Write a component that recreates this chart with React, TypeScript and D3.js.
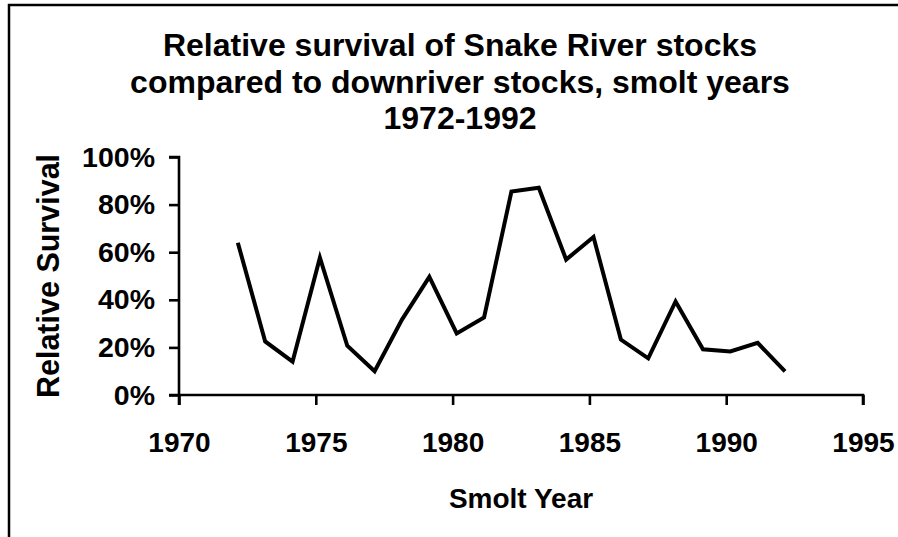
import { useEffect, useRef } from "react";
import * as d3 from "d3";

// smolt year as placed on the time axis (points sit slightly after the year tick)
const years = [1972.15, 1973.15, 1974.15, 1975.15, 1976.15, 1977.15, 1978.15, 1979.15,
  1980.15, 1981.15, 1982.15, 1983.15, 1984.15, 1985.15, 1986.15, 1987.15, 1988.15,
  1989.15, 1990.15, 1991.15, 1992.15];
const survival = [0.64, 0.225, 0.14, 0.577, 0.207, 0.10, 0.317, 0.496, 0.259, 0.326, 0.855,
  0.871, 0.569, 0.664, 0.233, 0.154, 0.393, 0.192, 0.183, 0.219, 0.099];
const xTicks = [1970, 1975, 1980, 1985, 1990, 1995];
const yTicks = [0, 0.2, 0.4, 0.6, 0.8, 1.0];
const titleLines = [
  "Relative survival of Snake River stocks",
  "compared to downriver stocks, smolt years",
  "1972-1992",
];

const W = 898;
const H = 537;
const FONT = "'Liberation Sans', Arial, Helvetica, sans-serif";

export default function App() {
  const ref = useRef<SVGSVGElement | null>(null);

  useEffect(() => {
    if (!ref.current) return;
    const svg = d3.select(ref.current);
    svg.selectAll("*").remove();

    const plot = { left: 179, right: 863, top: 157, bottom: 395 };
    const x = d3.scaleLinear().domain([1970, 1995]).range([plot.left, plot.right]);
    const y = d3.scaleLinear().domain([0, 1]).range([plot.bottom, plot.top]);

    svg.append("rect").attr("width", W).attr("height", H).attr("fill", "#fff");

    // outer frame (only top and left visible in crop)
    svg.append("path")
      .attr("d", `M9,${H} V5 H${W}`)
      .attr("fill", "none").attr("stroke", "#000").attr("stroke-width", 2.5);

    // title
    const title = svg.append("text")
      .attr("text-anchor", "middle")
      .attr("font-family", FONT).attr("font-weight", "bold").attr("font-size", 32);
    titleLines.forEach((t, i) => {
      title.append("tspan").attr("x", 460).attr("y", 56 + i * 36.5).text(t);
    });

    // y axis
    const yAxis = svg.append("g")
      .attr("transform", `translate(${plot.left},0)`)
      .call(d3.axisLeft(y).tickValues(yTicks).tickSize(10).tickPadding(14)
        .tickFormat((d) => `${Math.round(+d * 100)}%`));
    yAxis.select(".domain").attr("d", `M-10,${plot.top}H0V${plot.bottom + 10}`);
    yAxis.selectAll("line, .domain").attr("stroke", "#000").attr("stroke-width", 2.6);
    yAxis.selectAll("text")
      .attr("fill", "#000").attr("font-family", FONT).attr("font-weight", "bold").attr("font-size", 28.5);

    // x axis
    const xAxis = svg.append("g")
      .attr("transform", `translate(0,${plot.bottom})`)
      .call(d3.axisBottom(x).tickValues(xTicks).tickSize(10).tickPadding(27)
        .tickFormat((d) => `${d}`));
    xAxis.select(".domain").attr("d", `M${plot.left - 10},0H${plot.right}V10`);
    xAxis.selectAll("line, .domain").attr("stroke", "#000").attr("stroke-width", 2.6);
    xAxis.selectAll("text")
      .attr("fill", "#000").attr("font-family", FONT).attr("font-weight", "bold").attr("font-size", 28);

    // axis titles
    svg.append("text")
      .attr("transform", `translate(58.5,${(plot.top + plot.bottom) / 2}) rotate(-90)`)
      .attr("text-anchor", "middle")
      .attr("font-family", FONT).attr("font-weight", "bold").attr("font-size", 30.5)
      .text("Relative Survival");
    svg.append("text")
      .attr("x", (plot.left + plot.right) / 2).attr("y", 508)
      .attr("text-anchor", "middle")
      .attr("font-family", FONT).attr("font-weight", "bold").attr("font-size", 28)
      .text("Smolt Year");

    // series
    const line = d3.line<number>()
      .x((_, i) => x(years[i]))
      .y((d) => y(d));
    svg.append("path").datum(survival)
      .attr("d", line)
      .attr("fill", "none").attr("stroke", "#000").attr("stroke-width", 4)
      .attr("stroke-linejoin", "miter");
  }, []);

  return (
    <svg ref={ref} width={W} height={H}
      style={{ position: "absolute", left: 0, top: 0, display: "block" }} />
  );
}
